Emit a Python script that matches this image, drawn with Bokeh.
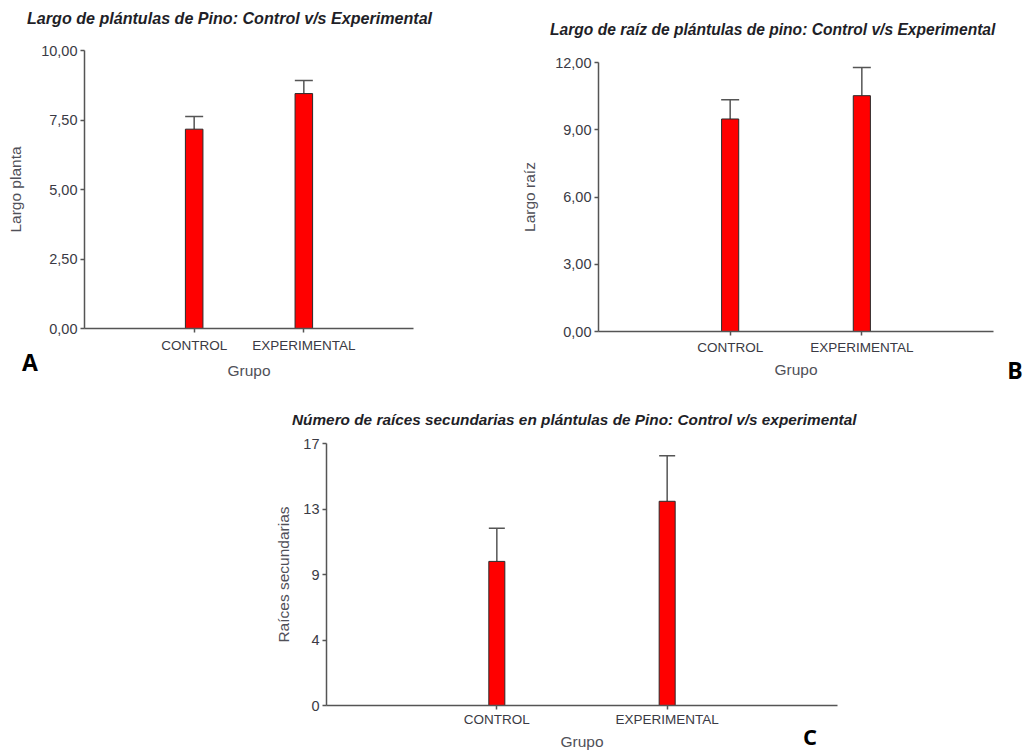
from bokeh.plotting import figure
from bokeh.models import ColumnDataSource, FactorRange, Range1d, FixedTicker, Whisker, TeeHead, Div
from bokeh.layouts import column, row
from bokeh.embed import file_html
from bokeh.resources import INLINE

# ---- data ----
groups = ["CONTROL", "EXPERIMENTAL"]

largo_planta = [7.17, 8.45]
largo_planta_err = [0.46, 0.47]

largo_raiz = [9.48, 10.52]
largo_raiz_err = [0.86, 1.26]

raices_sec = [9.35, 13.25]
raices_sec_err = [2.15, 2.95]

ticks_a = [0, 2.5, 5, 7.5, 10]
labels_a = ["0,00", "2,50", "5,00", "7,50", "10,00"]
ticks_b = [0, 3, 6, 9, 12]
labels_b = ["0,00", "3,00", "6,00", "9,00", "12,00"]
ticks_c = [0, 4.25, 8.5, 12.75, 17]
labels_c = ["0", "4", "9", "13", "17"]

title_a = "Largo de plántulas de Pino: Control v/s Experimental"
title_b = "Largo de raíz de plántulas de pino: Control v/s Experimental"
title_c = "Número de raíces secundarias en plántulas de Pino: Control v/s experimental"

TXT = "#3a3a44"
AX = "#555555"
FONT = "Liberation Sans"


def panel(ylabel, vals, errs, ticks, labels, width, height, borders,
          bar_w, cap_px, ylab_stand, xtick_stand, xlab_stand):
    L, R, T, B = borders
    src = ColumnDataSource(dict(x=groups, top=vals,
                                upper=[v + e for v, e in zip(vals, errs)]))
    p = figure(width=width, height=height, output_backend="svg",
               toolbar_location=None, title=None,
               x_range=FactorRange(factors=groups, range_padding=0.5),
               y_range=Range1d(0, ticks[-1]))
    p.min_border_left, p.min_border_right = L, R
    p.min_border_top, p.min_border_bottom = T, B
    p.outline_line_color = None
    p.grid.visible = False
    p.background_fill_color = "white"
    p.border_fill_color = "white"

    p.vbar(x="x", top="top", width=bar_w, source=src,
           fill_color="#ff0000", line_color="#2a2a2a", line_width=1)
    w = Whisker(base="x", upper="upper", lower="top", source=src,
                line_color=AX, line_width=1.5, lower_head=None,
                upper_head=TeeHead(size=cap_px, line_color=AX, line_width=1.5))
    p.add_layout(w)

    p.yaxis.ticker = FixedTicker(ticks=ticks)
    p.yaxis.major_label_overrides = {t: l for t, l in zip(ticks, labels)}
    p.yaxis.axis_label = ylabel
    p.xaxis.axis_label = "Grupo"
    for ax in (p.xaxis, p.yaxis):
        ax.axis_line_color = AX
        ax.axis_line_width = 1.5
        ax.major_tick_line_color = AX
        ax.major_tick_line_width = 1.5
        ax.major_tick_out = 4
        ax.major_tick_in = 0
        ax.minor_tick_line_color = None
        ax.major_label_text_font = FONT
        ax.major_label_text_color = TXT
        ax.axis_label_text_font = FONT
        ax.axis_label_text_font_size = "15.5px"
        ax.axis_label_text_font_style = "normal"
        ax.axis_label_text_color = "#505058"
    p.xaxis.major_label_text_font_size = "13.5px"
    p.yaxis.major_label_text_font_size = "14.5px"
    p.yaxis.major_label_standoff = 3
    p.yaxis.axis_label_standoff = ylab_stand
    p.xaxis.axis_label_standoff = xlab_stand
    p.xaxis.major_label_standoff = xtick_stand
    return p


def title_div(txt, size, width, margin):
    return Div(text=txt, width=width, height=20, margin=margin,
               styles={"font-family": FONT, "font-weight": "bold",
                       "font-style": "italic", "font-size": size,
                       "line-height": "20px", "white-space": "nowrap",
                       "color": "#1f1f28"})


def letter(txt, size, height, margin):
    return Div(text=txt, width=20, height=height, margin=margin,
               styles={"font-family": "Open Sans", "font-weight": "bold",
                       "font-size": size, "line-height": "%dpx" % height,
                       "color": "black", "text-align": "center"})


pa = panel("Largo planta", largo_planta, largo_planta_err, ticks_a, labels_a,
           470, 390, (84, 57, 50, 62), 0.16, 18, 14, 5, 6)
pb = panel("Largo raíz", largo_raiz, largo_raiz_err, ticks_b, labels_b,
           548, 390, (128, 25, 62, 59), 0.13, 18, 14, 4, 3)
pc = panel("Raíces secundarias", raices_sec, raices_sec_err, ticks_c, labels_c,
           1018, 362, (326, 181, 53, 47), 0.094, 16, 8, 2, 3)

# column A: plot (0..390), title at 8..28, letter at 348..376
col_a = column(pa,
               title_div(title_a, "16.1px", 440, (-382, 0, 0, 27)),
               letter("A", "23px", 28, (320, 0, 14, 20)))
# column B: plot (0..390), title at 20..40, letter at 356..384
col_b = column(pb,
               title_div(title_b, "15.6px", 462, (-370, 0, 0, 80)),
               letter("B", "23px", 28, (316, 0, 6, 535)))
# plot C (390..752), title at 410..430, letter at 721..751
layout = column(row(col_a, col_b), pc,
                title_div(title_c, "15.35px", 600, (-342, 0, 0, 292)),
                letter("C", "22px", 30, (291, 0, 1, 800)))
open("out.html", "w").write(file_html(layout, INLINE))
